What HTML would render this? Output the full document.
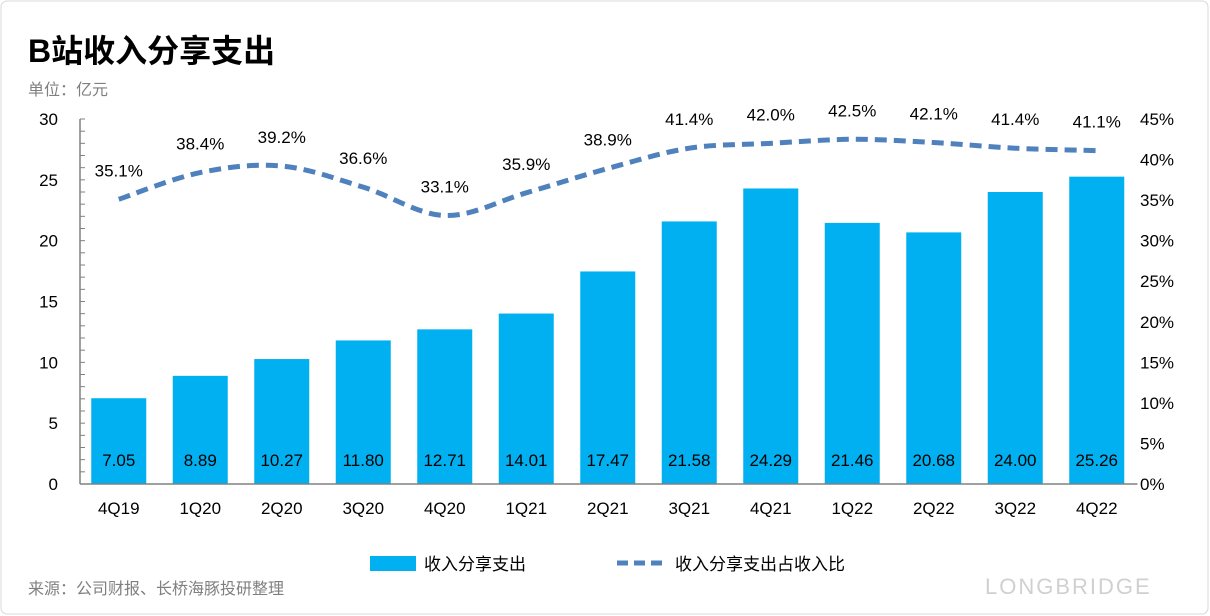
<!DOCTYPE html>
<html><head><meta charset="utf-8">
<style>
body{margin:0;background:#fff;}
#wrap{position:relative;width:1210px;height:616px;overflow:hidden;font-family:"Liberation Sans","Noto Sans CJK SC",sans-serif;}
svg text{font-family:"Liberation Sans","Noto Sans CJK SC",sans-serif;}
</style></head><body>
<div id="wrap">
<svg id="chart" width="1210" height="616">
<rect x="1" y="1" width="1207" height="613" rx="6" fill="#fff" stroke="#d8d8d8"/>
<text x="28" y="62" font-size="32" font-weight="bold" fill="#000">B站收入分享支出</text>
<text x="28" y="95" font-size="16" fill="#7f7f7f">单位：亿元</text>
<g id="plot"></g>
<g>
<rect x="370" y="556" width="46" height="15" fill="#00b0f0"/>
<text x="424" y="570" font-size="17" fill="#000">收入分享支出</text>
<line x1="617" y1="563" x2="668" y2="563" stroke="#4f81bd" stroke-width="5" stroke-dasharray="11,6"/>
<text x="675" y="570" font-size="17" fill="#000">收入分享支出占收入比</text>
</g>
<text x="28" y="594" font-size="16" fill="#7f7f7f">来源：公司财报、长桥海豚投研整理</text>
<text x="985" y="594" font-size="22" fill="#d0d0d0" letter-spacing="2">LONGBRIDGE</text>
</svg>
</div>
<script>
const categories=["4Q19","1Q20","2Q20","3Q20","4Q20","1Q21","2Q21","3Q21","4Q21","1Q22","2Q22","3Q22","4Q22"];
const revenueShare=[7.05,8.89,10.27,11.80,12.71,14.01,17.47,21.58,24.29,21.46,20.68,24.00,25.26];
const sharePct=[35.1,38.4,39.2,36.6,33.1,35.9,38.9,41.4,42.0,42.5,42.1,41.4,41.1];
const leftTicks=[0,5,10,15,20,25,30];
const rightTicks=[0,5,10,15,20,25,30,35,40,45];

const NS="http://www.w3.org/2000/svg";
const g=document.getElementById('plot');
const y0=484,yTop=119,x0=78,step=81.5;
const yL=v=>y0-(v/30)*(y0-yTop);
const yR=v=>y0-(v/45)*(y0-yTop);
const xC=i=>x0+step*(i+0.5);
function mk(tag,attrs,txt){const e=document.createElementNS(NS,tag);for(const k in attrs)e.setAttribute(k,attrs[k]);if(txt!==undefined)e.textContent=txt;g.appendChild(e);return e;}

leftTicks.forEach(t=>{const e=mk('text',{x:58,y:yL(t)+6,'font-size':17,'text-anchor':'end',fill:'#000'},t);

});
rightTicks.forEach(t=>{const e=mk('text',{x:1140,y:yR(t)+6,'font-size':17,fill:'#000'},t+'%');

});

const yax=mk('line',{x1:80,y1:yTop,x2:80,y2:y0,stroke:'#808080','stroke-width':1.5});


for(let k=0;k<=30;k++){
 const tk=mk('line',{x1:80,y1:yL(k),x2:85,y2:yL(k),stroke:'#808080','stroke-width':1});
 
 
}

categories.forEach((c,i)=>{
 const v=revenueShare[i];
 const b=mk('rect',{x:xC(i)-27.5,y:yL(v),width:55,height:y0-yL(v),fill:'#00b0f0'});
 
 
 const l=mk('text',{x:xC(i),y:466,'font-size':17,'text-anchor':'middle',fill:'#000'},v.toFixed(2));
 
 
 const cl=mk('text',{x:xC(i),y:514,'font-size':17,'text-anchor':'middle',fill:'#000'},c);
 
 
});
const ax=mk('line',{x1:80,y1:y0,x2:x0+step*13,y2:y0,stroke:'#808080','stroke-width':1.5});



const pts=sharePct.map((v,i)=>[xC(i),yR(v)]);
let d='M'+pts[0][0]+','+pts[0][1];
for(let i=0;i<pts.length-1;i++){
 const p0=pts[Math.max(0,i-1)],p1=pts[i],p2=pts[i+1],p3=pts[Math.min(pts.length-1,i+2)];
 const c1=[p1[0]+(p2[0]-p0[0])/6,p1[1]+(p2[1]-p0[1])/6];
 const c2=[p2[0]-(p3[0]-p1[0])/6,p2[1]-(p3[1]-p1[1])/6];
 d+=` C${c1[0]},${c1[1]} ${c2[0]},${c2[1]} ${p2[0]},${p2[1]}`;
}
const ln=mk('path',{d:d,fill:'none',stroke:'#4f81bd','stroke-width':5,'stroke-dasharray':'12,7'});


sharePct.forEach((v,i)=>{
 const t=mk('text',{x:xC(i),y:yR(v)-23,'font-size':17,'text-anchor':'middle',fill:'#000'},v.toFixed(1)+'%');
 
 
});
</script>
</body></html>
